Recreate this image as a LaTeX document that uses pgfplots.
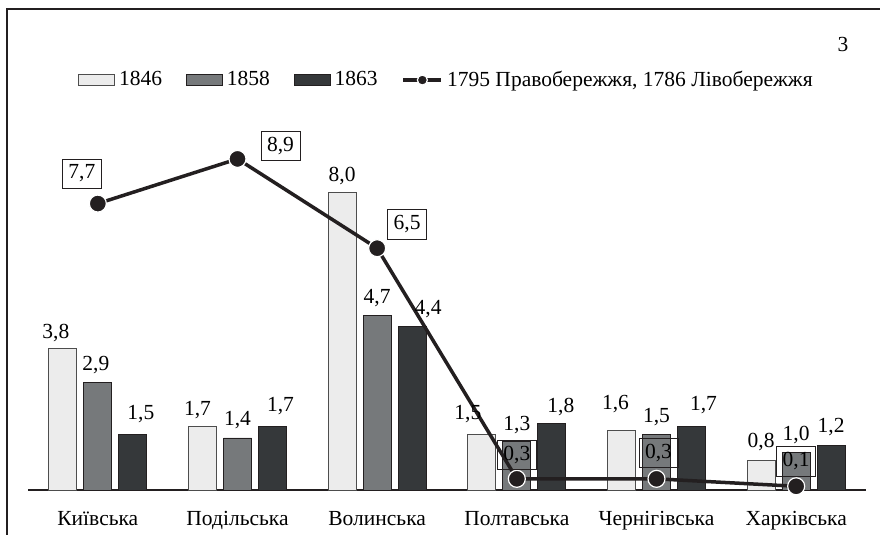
\documentclass[border=0pt]{standalone}
\usepackage{pgfplots}
\pgfplotsset{compat=1.18}
\usepackage{pgfplotstable}
\usepackage{fontspec}
\setmainfont{Liberation Serif}
\definecolor{cA}{HTML}{ECECEC}
\definecolor{cB}{HTML}{76797B}
\definecolor{cC}{HTML}{35383A}
\definecolor{cL}{HTML}{231F20}
\definecolor{cE}{HTML}{4D4D4D}

\pgfplotsset{
  barlegend/.style={legend image code/.code={\draw[##1] (0bp,-5.5bp) rectangle (36bp,5.5bp);}},
  linelegend/.style={legend image code/.code={\draw[##1, line width=3.5bp, mark size=5bp, mark repeat=2, mark phase=2]
    plot coordinates {(0bp,0bp) (19bp,0bp) (38bp,0bp)};}},
  mybar/.style={ybar, bar width=28bp, line width=0.8bp,
    nodes near coords,
    visualization depends on={\thisrow{dx}\as\dx},
    visualization depends on={\thisrow{dy}\as\dy},
    every node near coord/.append style={anchor=base, inner sep=0pt, xshift=\dx bp, yshift=\dy bp, text=black},
    barlegend},
  myline/.style={color=cL, line width=3.5bp, mark=*, mark size=8.5bp,
    mark options={fill=cL, draw=white, line width=1.2bp},
    nodes near coords,
    visualization depends on={\thisrow{dx}\as\dx},
    visualization depends on={\thisrow{dy}\as\dy},
    every node near coord/.append style={anchor=center, draw=cL, line width=0.7bp,
      inner xsep=6bp, inner ysep=6bp, xshift=\dx bp, yshift=\dy bp, text=black, fill=none},
    linelegend},
}

% dx includes the bar's own shift from the group centre (-35, 0, +35 bp)
\pgfplotstableread{
x y dx dy
0 3.8 -42 10
1 1.7 -40 11
2 8.0 -35 11
3 1.5 -49 15
4 1.6 -41 21
5 0.8 -35 13
}\tA
\pgfplotstableread{
x y dx dy
0 2.9 -2 12
1 1.4 0 12
2 4.7 0 12
3 1.3 0 11
4 1.5 0 12
5 1.0 0 12
}\tB
\pgfplotstableread{
x y dx dy
0 1.5 43 15
1 1.7 43 15
2 4.4 51 12
3 1.8 44 11
4 1.7 47 16
5 1.2 35 13
}\tC
\pgfplotstableread{
x y dx dy
0 7.7 -16 30
1 8.9 43 13
2 6.5 30 24
3 0.3 0 24
4 0.3 2 26
5 0.1 0 25
}\tL

\begin{document}
\fontsize{21.5bp}{25bp}\selectfont
\begin{tikzpicture}[font=\fontsize{21.5bp}{25bp}\selectfont]
\useasboundingbox (0,0) rectangle (880bp,535bp);
\draw[line width=1.6bp, color=cL] (7bp,0) -- (7bp,526bp) -- (880bp,526bp);
\node[anchor=base] at (843bp,483bp) {3};
\begin{axis}[
  at={(28bp,45bp)}, anchor=south west,
  scale only axis, width=838bp, height=372bp,
  xmin=-0.5, xmax=5.5, ymin=0, ymax=10,
  axis y line=none, axis x line*=bottom,
  x axis line style={line width=2bp, color=cL},
  xtick={0,1,2,3,4,5},
  xticklabels={Київська,Подільська,Волинська,Полтавська,Чернігівська,Харківська},
  major tick length=0pt,
  xticklabel style={anchor=base, yshift=-35bp, inner sep=0pt},
  ytick=\empty,
  clip=false,
  /pgf/number format/.cd, use comma, fixed, fixed zerofill, precision=1, assume math mode=true, /pgfplots/.cd,
  legend style={at={(0.0597,1.102)}, anchor=west, draw=none, fill=none, inner sep=0pt,
    legend columns=4, nodes={inner sep=2bp, anchor=west},
    /tikz/every even column/.append style={column sep=22bp},
    /tikz/every odd column/.append style={column sep=2bp}},
  legend cell align=left,
]
\addplot[mybar, bar shift=-35bp, fill=cA, draw=cE] table[x=x,y=y] {\tA};
\addlegendentry{1846}
\addplot[mybar, bar shift=0bp, fill=cB, draw=cL] table[x=x,y=y] {\tB};
\addlegendentry{1858}
\addplot[mybar, bar shift=35bp, fill=cC, draw=cL] table[x=x,y=y] {\tC};
\addlegendentry{1863}
\addplot[myline] table[x=x,y=y] {\tL};
\addlegendentry{1795 Правобережжя, 1786 Лівобережжя}
\end{axis}
\end{tikzpicture}
\end{document}
